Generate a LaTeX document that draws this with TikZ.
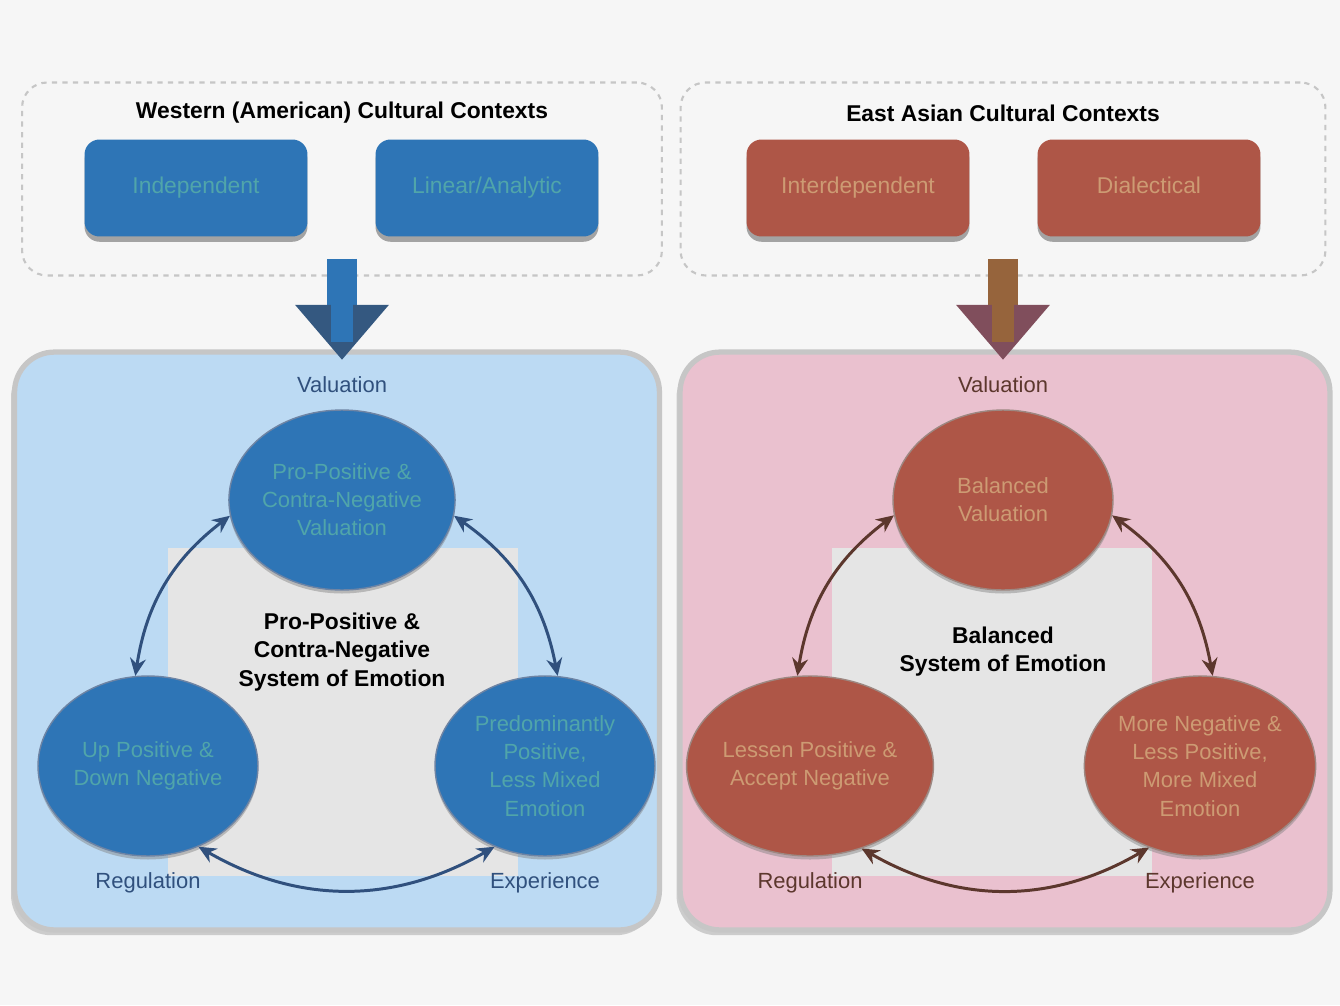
\documentclass[tikz,border=0pt]{standalone}
\usepackage{fontspec}
\setmainfont{Liberation Sans}
\usepackage{tikz}
\usetikzlibrary{shapes.geometric, arrows.meta, positioning, shadows}
\definecolor{pagebg}{RGB}{246,246,246}
\definecolor{westblue}{RGB}{46,117,182}
\definecolor{westhead}{RGB}{52,88,128}
\definecolor{westtext}{RGB}{80,165,170}
\definecolor{westpanel}{RGB}{188,218,243}
\definecolor{westline}{RGB}{48,80,125}
\definecolor{eastred}{RGB}{174,86,71}
\definecolor{eastshaft}{RGB}{150,100,60}
\definecolor{easthead}{RGB}{128,78,92}
\definecolor{easttext}{RGB}{205,155,115}
\definecolor{eastpanel}{RGB}{234,193,207}
\definecolor{eastline}{RGB}{92,55,45}
\definecolor{midgray}{RGB}{229,229,229}
\tikzstyle{ctxbox} = [rectangle, rounded corners=0.5cm,
minimum width=12.8cm, minimum height=3.86cm,
draw=gray!45, dashed, line width=1.2pt]
\tikzstyle{heading} = [font=\fontsize{13}{15}\selectfont\bfseries, text=black]
\tikzstyle{westbox} = [rectangle, rounded corners=0.3cm,
minimum width=4.46cm, minimum height=1.94cm,
text height=1.7ex, text depth=0.5ex,
fill=westblue, text=westtext, font=\fontsize{13}{15}\selectfont,
drop shadow={shadow xshift=0pt, shadow yshift=-3pt, opacity=0.7}]
\tikzstyle{eastbox} = [westbox, fill=eastred, text=easttext]
\tikzstyle{panel} = [rectangle, rounded corners=0.8cm,
draw=gray!45, line width=3pt,
drop shadow={shadow xshift=-2pt, shadow yshift=-3pt, opacity=0.35}]
\tikzstyle{westell} = [ellipse, minimum width=4.4cm, minimum height=3.6cm,
inner sep=0pt, align=center, fill=westblue, text=westtext,
draw=westline!70, line width=0.8pt,
font=\fontsize{12.5}{16}\selectfont,
drop shadow={shadow xshift=0pt, shadow yshift=-2pt, opacity=0.45}]
\tikzstyle{eastell} = [westell, fill=eastred, text=easttext, draw=eastline!60]
\tikzstyle{dimlabel} = [font=\fontsize{12.5}{14}\selectfont, inner sep=1pt]
\tikzstyle{system} = [align=center, font=\fontsize{13}{16}\selectfont\bfseries]
\tikzstyle{arrow} = [line width=1.7pt, <->, >={Stealth[length=10pt,width=9pt]}]
\tikzstyle{bigarrow} = [line width=0.6cm, shorten <=-10pt, shorten >=-6pt]

\begin{document}
\begin{tikzpicture}[x=0.02cm, y=-0.02cm]
            \useasboundingbox (0,0) rectangle (1340,1005);
            \fill[pagebg] (0,0) rectangle (1340,1005);

            % cultural contexts
            \node (ctx1) [ctxbox] at (342,179) {};
            \node (ctx2) [ctxbox, minimum width=12.9cm] at (1003,179) {};
            \node (tit1) [heading] at (342,113) {Western (American) Cultural Contexts};
            \node (tit2) [heading] at (1003,113) {East Asian Cultural Contexts};
            \node (cul1) [westbox] at (196,188) {Independent};
            \node (cul2) [westbox] at (487,188) {Linear/Analytic};
            \node (cul3) [eastbox] at (858,188) {Interdependent};
            \node (cul4) [eastbox] at (1149,188) {Dialectical};

            % systems of emotion
            \node (pan1) [panel, fill=westpanel, minimum width=12.9cm, minimum height=11.56cm] at (337,641) {};
            \node (pan2) [panel, fill=eastpanel, minimum width=13cm, minimum height=11.56cm] at (1005,641) {};
            \fill[midgray] (168,548) rectangle (518,876);
            \fill[midgray] (832,548) rectangle (1152,876);

            \draw [bigarrow, westblue, -{Triangle[width=1.8cm,length=1.1cm,color=westhead]}] (ctx1.south) -- (ctx1.south |- pan1.north);
            \draw [bigarrow, westblue, line width=0.45cm, shorten >=4pt] (ctx1.south) -- (ctx1.south |- pan1.north);
            \draw [bigarrow, eastshaft, -{Triangle[width=1.8cm,length=1.1cm,color=easthead]}] (ctx2.south) -- (ctx2.south |- pan2.north);
            \draw [bigarrow, eastshaft, line width=0.45cm, shorten >=4pt] (ctx2.south) -- (ctx2.south |- pan2.north);

            \node (val1) [westell] at (342,500) {Pro-Positive \&\\Contra-Negative\\Valuation};
            \node (reg1) [westell] at (148,766) {Up Positive \&\\Down Negative};
            \node (exp1) [westell] at (545,766) {Predominantly\\Positive,\\Less Mixed\\Emotion};
            \node (sys1) [system] at (342,652) {Pro-Positive \&\\Contra-Negative\\System of Emotion};

            \node (val2) [eastell] at (1003,500) {Balanced\\Valuation};
            \node (reg2) [eastell] at (810,766) {Lessen Positive \&\\Accept Negative};
            \node (exp2) [eastell] at (1200,766) {More Negative \&\\Less Positive,\\More Mixed\\Emotion};
            \node (sys2) [system] at (1003,652) {Balanced\\System of Emotion};

            \node (lv1) [dimlabel, text=westline, above=8pt of val1] {Valuation};
            \node (lr1) [dimlabel, text=westline, below=8pt of reg1] {Regulation};
            \node (le1) [dimlabel, text=westline, below=8pt of exp1] {Experience};
            \node (lv2) [dimlabel, text=eastline, above=8pt of val2] {Valuation};
            \node (lr2) [dimlabel, text=eastline, below=8pt of reg2] {Regulation};
            \node (le2) [dimlabel, text=eastline, below=8pt of exp2] {Experience};

            \draw [arrow, westline] (val1.188) to[bend right=22] (reg1.98);
            \draw [arrow, westline] (val1.352) to[bend left=22] (exp1.82);
            \draw [arrow, westline] (reg1.302) to[bend right=30] (exp1.238);
            \draw [arrow, eastline] (val2.188) to[bend right=22] (reg2.98);
            \draw [arrow, eastline] (val2.352) to[bend left=22] (exp2.82);
            \draw [arrow, eastline] (reg2.302) to[bend right=30] (exp2.238);
        \end{tikzpicture}
\end{document}
